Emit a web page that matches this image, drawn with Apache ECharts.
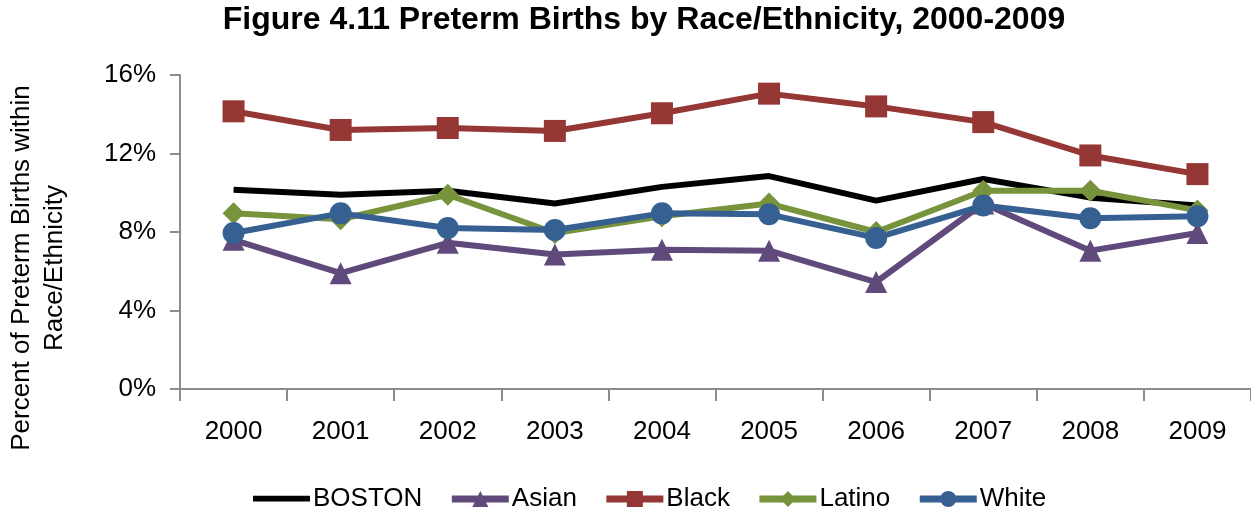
<!DOCTYPE html>
<html><head><meta charset="utf-8">
<script src="https://cdn.jsdelivr.net/npm/echarts@6/dist/echarts.min.js"></script>
<style>html,body{margin:0;padding:0;background:#fff}#c{width:1251px;height:517px}</style>
</head><body><div id="c"></div>
<script>
const years = ['2000','2001','2002','2003','2004','2005','2006','2007','2008','2009'];
const boston = [10.15, 9.9, 10.1, 9.45, 10.3, 10.85, 9.6, 10.7, 9.75, 9.35];
const asian  = [7.6, 5.9, 7.45, 6.85, 7.1, 7.05, 5.45, 9.45, 7.05, 7.95];
const black  = [14.15, 13.2, 13.3, 13.15, 14.05, 15.05, 14.4, 13.6, 11.9, 10.95];
const latino = [8.95, 8.65, 9.9, 7.95, 8.8, 9.45, 8.0, 10.1, 10.1, 9.1];
const white  = [7.95, 8.95, 8.2, 8.1, 8.95, 8.9, 7.7, 9.35, 8.7, 8.8];
const yTicks = [0, 4, 8, 12, 16];

const chart = echarts.init(document.getElementById('c'));
const font = 'Liberation Sans, Arial, sans-serif';
function s(name, data, color, symbol, size) {
  return {name, type:'line', data, symbol, symbolSize:size, showSymbol: symbol !== 'none',
    lineStyle:{color, width:6}, itemStyle:{color}, z: 2};
}
const lineIcon = 'path://M0,0L0.01,0L0,0.01Z M0,6H72V13H0Z M72,20L71.99,20L72,19.99Z';
chart.setOption({
  animation:false,
  title:{text:'Figure 4.11 Preterm Births by Race/Ethnicity, 2000-2009', left:639, top:-1, textAlign:'center',
    textStyle:{fontFamily:font, fontSize:32, fontWeight:'bold', color:'#000'}},
  grid:{left:180, right:0, top:75, bottom:128},
  legend:{bottom:0, left:248, itemWidth:57, itemHeight:20, itemGap:26,
    lineStyle:{width:7},
    textStyle:{fontFamily:font, fontSize:26, color:'#000', padding:[0,0,0,-2]},
    data:[{name:'BOSTON', icon: lineIcon},'Asian','Black','Latino','White']},
  graphic:[{type:'text', x:38, y:268, rotation:Math.PI/2,
    style:{text:'Percent of Preterm Births within\nRace/Ethnicity', font:'26px ' + font, fill:'#000',
      textAlign:'center', textVerticalAlign:'middle', lineHeight:33}}],
  xAxis:{type:'category', data:years, boundaryGap:true,
    axisLine:{lineStyle:{color:'#8c8c8c', width:2}},
    axisTick:{show:true, length:12, inside:false, lineStyle:{color:'#8c8c8c', width:2}},
    axisLabel:{fontFamily:font, fontSize:26, color:'#000', margin:30}},
  yAxis:{type:'value', min:0, max:16, interval:4,
    axisLine:{show:true, lineStyle:{color:'#8c8c8c', width:2}},
    axisTick:{show:true, length:10, lineStyle:{color:'#8c8c8c', width:2}},
    splitLine:{show:false},
    axisLabel:{fontFamily:font, fontSize:26, color:'#000', margin:24,
      formatter: v => yTicks.includes(v) ? v + '%' : ''}},
  series:[
    s('BOSTON', boston, '#000000', 'none', 0),
    s('Asian', asian, '#604A7B', 'triangle', 22),
    s('Black', black, '#953735', 'rect', 22),
    s('Latino', latino, '#77933C', 'diamond', 22),
    s('White', white, '#376092', 'circle', 22)
  ]
});
</script></body></html>
